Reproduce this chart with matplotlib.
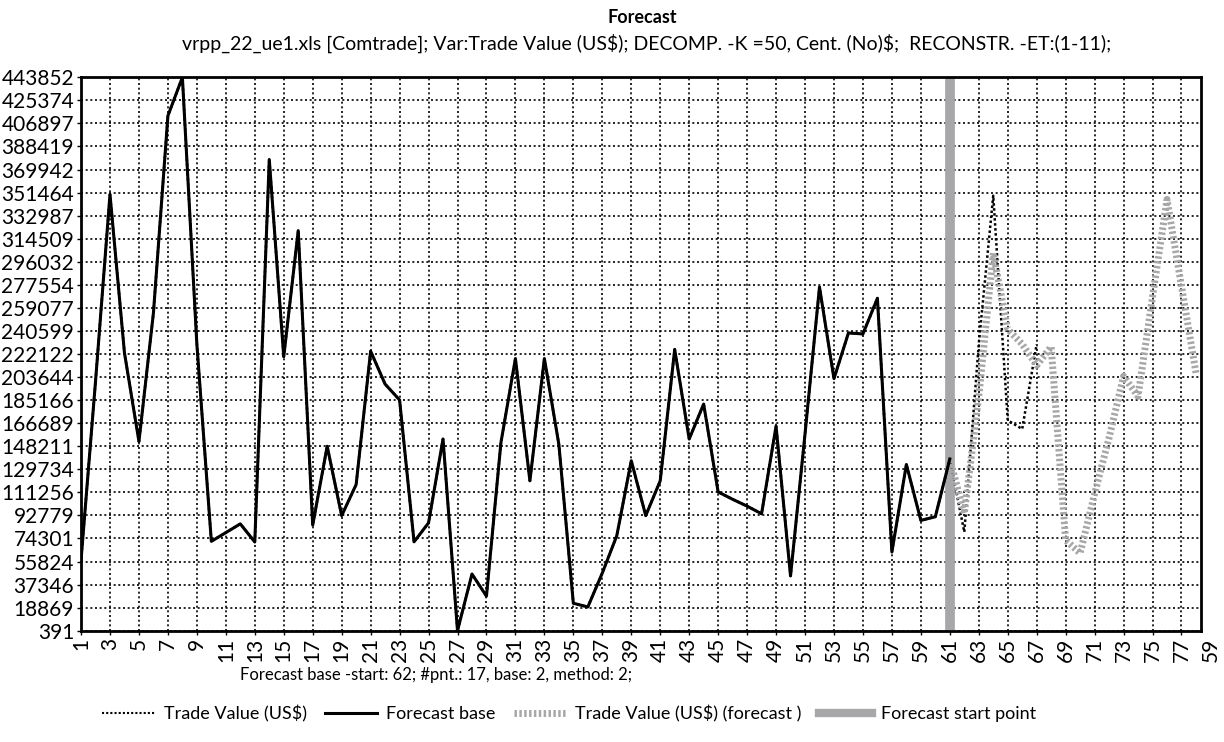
import numpy as np
import matplotlib.pyplot as plt
from matplotlib.lines import Line2D
from matplotlib import transforms

plt.rcParams['font.family'] = ['Lato', 'DejaVu Sans']

# forecast base (solid), points 1..61
base_x = list(range(1, 62))
base_y = [57000, 200000, 350000, 223000, 152000, 255000, 413000, 443852, 230000, 72000,
          79000, 86000, 71500, 378000, 220000, 321000, 85000, 148200, 92600, 117500,
          224400, 198000, 185300, 71600, 86800, 154000, 391, 45800, 28100, 151200,
          218500, 120500, 218500, 149700, 22400, 19400, 46600, 76500, 136600, 92600,
          120500, 225800, 154000, 182000, 111600, 105700, 100200, 94100, 164300, 44300,
          158000, 275700, 202400, 239000, 238200, 266800, 63400, 133600, 88800, 91700,
          138000]

# real values after the base
tail_x = list(range(62, 68))
tail_y = [79500, 230000, 349000, 169000, 162000, 230000]

# forecast, points 61..78
fc_x = list(range(61, 79))
fc_y = [138000, 94300, 188000, 303000, 242000, 230000, 213000, 228000, 73000, 62500,
        110000, 155000, 204300, 188200, 268000, 346000, 276500, 207000]

start_point = 61

yticks = [391, 18869, 37346, 55824, 74301, 92779, 111256, 129734, 148211, 166689,
          185166, 203644, 222122, 240599, 259077, 277554, 296032, 314509, 332987,
          351464, 369942, 388419, 406897, 425374, 443852]
xticks = list(range(1, 80, 2))
xlabels = [str(v) for v in xticks[:-1]] + ['59']

real_x = base_x + tail_x
real_y = base_y + tail_y

fig = plt.figure(figsize=(12.24, 7.42), dpi=100)
ax = fig.add_axes([0.0662, 0.15, 0.9148, 0.7458])

gray = '#a7a7a9'
ax.axvline(start_point, color=gray, lw=7, zorder=2)
ax.plot(real_x, real_y, color='black', lw=1.8, ls=(0, (1, 1)), zorder=3)
ax.plot(fc_x, fc_y, color=gray, lw=5, ls=(0, (0.35, 0.35)), zorder=3)
ax.plot(base_x, base_y, color='black', lw=2.2, zorder=4)

ax.set_xlim(1, 78.33)
ax.set_ylim(391, 443852)
ax.set_yticks(yticks)
ax.set_yticklabels([str(v) for v in yticks], fontsize=15)
ax.set_xticks(xticks[:-1])
ax.set_xticklabels(xlabels[:-1], rotation=90, fontsize=15)
trans = transforms.blended_transform_factory(ax.transData, ax.transAxes)
ax.text(xticks[-1], -0.012, xlabels[-1], rotation=90, fontsize=15,
        ha='center', va='top', transform=trans, clip_on=False)
ax.tick_params(length=3, width=1, pad=2)
ax.grid(True, color='black', lw=1.2, ls=(0, (1.2, 1.6)))
for s in ax.spines.values():
    s.set_linewidth(2)

fig.text(0.525, 0.977, 'Forecast', ha='center', va='center', fontsize=13, fontweight='bold')
fig.text(0.528, 0.942, r'vrpp_22_ue1.xls [Comtrade]; Var:Trade Value (US\$); DECOMP. -K =50, '
         r'Cent. (No)\$;  RECONSTR. -ET:(1-11);', ha='center', va='center', fontsize=14)
fig.text(0.196, 0.09, 'Forecast base -start: 62; #pnt.: 17, base: 2, method: 2;',
         ha='left', va='center', fontsize=12)

handles = [
    Line2D([], [], color='black', lw=1.5, ls=(0, (1, 1))),
    Line2D([], [], color='black', lw=2.2),
    Line2D([], [], color=gray, lw=5, ls=(0, (0.35, 0.35))),
    Line2D([], [], color=gray, lw=6),
]
labels = [r'Trade Value (US\$)', 'Forecast base', r'Trade Value (US\$) (forecast )',
          'Forecast start point']
fig.legend(handles, labels, loc='center', bbox_to_anchor=(0.465, 0.038), ncol=4,
           frameon=False, fontsize=13, handlelength=2.9, columnspacing=1.0,
           handletextpad=0.5)

fig.savefig('out.png', dpi=100)
